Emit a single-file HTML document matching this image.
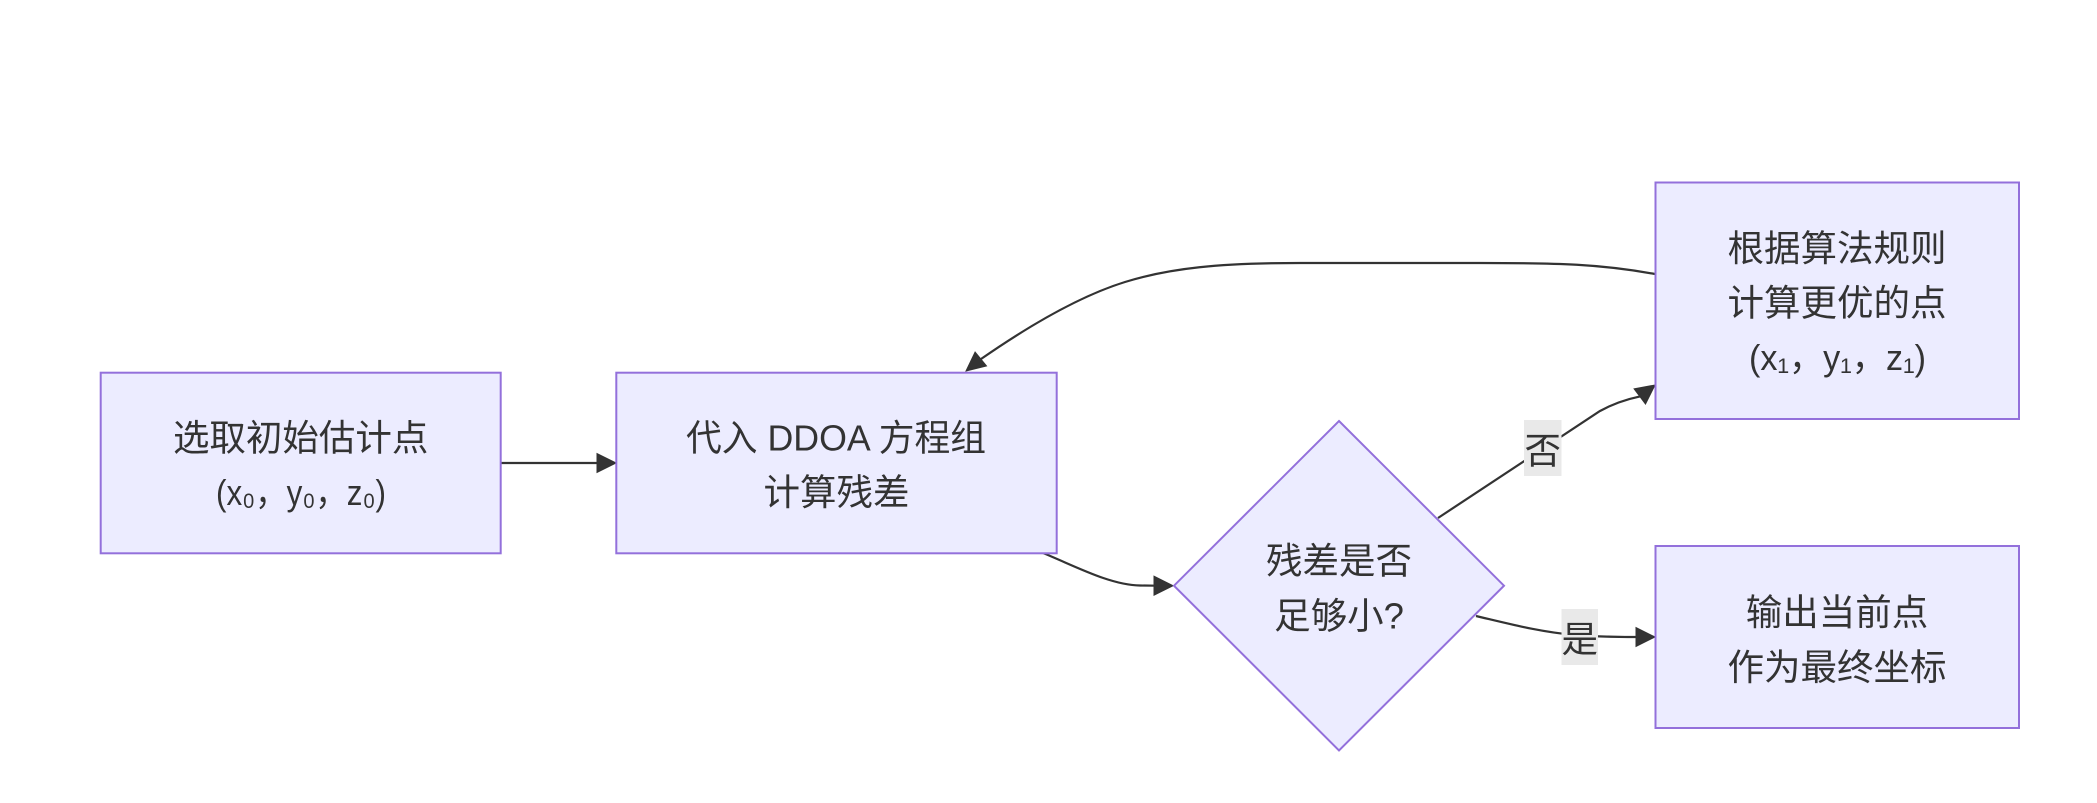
<!DOCTYPE html>
<html>
<head>
<meta charset="utf-8">
<style>
  html, body { margin: 0; padding: 0; background: #ffffff; }
  body { width: 2097px; height: 803px; overflow: hidden; }
  svg { display: block; }
  .t { font-family: "Liberation Sans", "Noto Sans CJK SC", sans-serif; font-size: 36.5px; fill: #333333; }
</style>
</head>
<body>
<svg width="2097" height="803" viewBox="0 0 2097 803" xmlns="http://www.w3.org/2000/svg">
  <rect x="0" y="0" width="2097" height="803" fill="#ffffff"/>

  <!-- Edges -->
  <g fill="none" stroke="#333333" stroke-width="2.2">
    <path d="M500.7,463 L598,463"/>
    <path d="M1043,553 C1075,566 1110,585 1140,585.5 L1156,585.7"/>
    <path d="M1655,274 C1600,264 1560,263 1480,263 L1300,263 C1220,263 1170,268 1125,282 C1080,296 1030,325 981,359"/>
    <path d="M1438,518 L1600,411 Q1618,401 1640,396.4"/>
    <path d="M1476,616 C1510,624 1540,632 1575,635 C1600,637 1620,637 1637,637"/>
  </g>

  <!-- Arrowheads -->
  <g fill="#333333" stroke="#333333" stroke-width="1">
    <polygon points="616,463 597,453.5 597,472.5"/>
    <polygon points="1173,585.7 1154,576.2 1154,595.2"/>
    <polygon points="966,371 986.5,366 975.1,352"/>
    <polygon points="1655,385 1645.5,404 1634.1,388.8"/>
    <polygon points="1655,637 1636,627.5 1636,646.5"/>
  </g>

  <!-- Nodes -->
  <g fill="#ECECFF" stroke="#9370DB" stroke-width="2">
    <rect x="100.7" y="372.7" width="400" height="180.6"/>
    <rect x="616.3" y="372.7" width="440.4" height="180.6"/>
    <polygon points="1339,421 1504,585.7 1339,750.5 1174,585.7"/>
    <rect x="1655.5" y="182.5" width="363.5" height="236.5"/>
    <rect x="1655.5" y="546" width="363.5" height="182"/>
  </g>

  <!-- Edge label backgrounds -->
  <rect x="1524" y="420" width="37.5" height="56" fill="#e9e9e9"/>
  <rect x="1561.5" y="609" width="36.5" height="56" fill="#e9e9e9"/>

  <!-- Node text -->
  <g class="t">
    <text x="300.7" y="450.5" text-anchor="middle">选取初始估计点</text>
    <text x="216" y="505" textLength="170" lengthAdjust="spacingAndGlyphs">(x₀，y₀，z₀)</text>

    <text x="686" y="450.5" textLength="300" lengthAdjust="spacingAndGlyphs">代入 DDOA 方程组</text>
    <text x="836.5" y="505" text-anchor="middle">计算残差</text>

    <text x="1339" y="573.5" text-anchor="middle">残差是否</text>
    <text x="1339" y="628.5" text-anchor="middle">足够小?</text>

    <text x="1837" y="261" text-anchor="middle">根据算法规则</text>
    <text x="1837" y="315.5" text-anchor="middle">计算更优的点</text>
    <text x="1749" y="370" textLength="177" lengthAdjust="spacingAndGlyphs">(x₁，y₁，z₁)</text>

    <text x="1837" y="625" text-anchor="middle">输出当前点</text>
    <text x="1837" y="680" text-anchor="middle">作为最终坐标</text>

    <text x="1542.7" y="463.5" text-anchor="middle">否</text>
    <text x="1579.8" y="652" text-anchor="middle">是</text>
  </g>
</svg>
</body>
</html>
